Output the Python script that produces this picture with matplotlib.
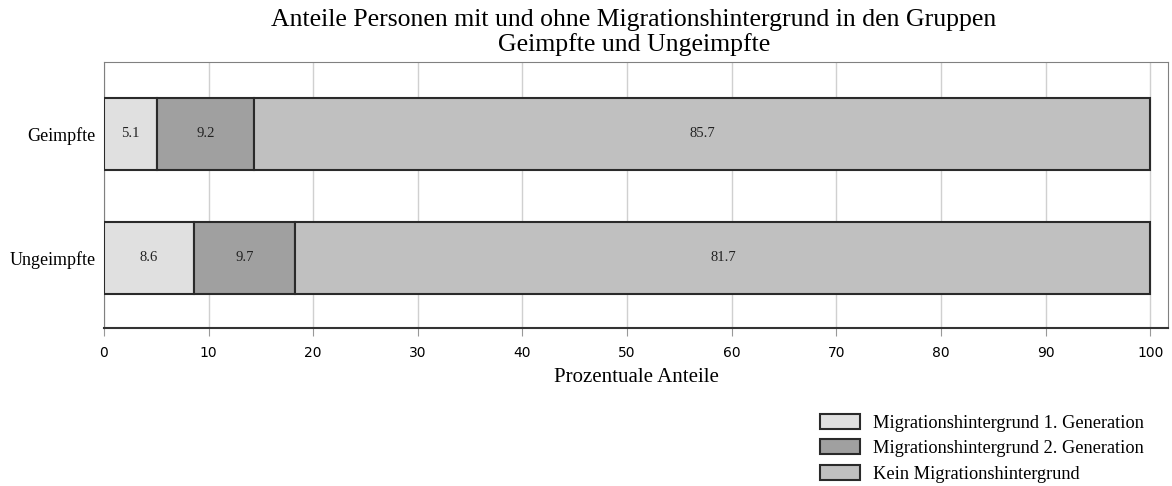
import numpy as np
import matplotlib.pyplot as plt

plt.rcParams['font.family'] = ['Liberation Serif', 'DejaVu Serif']

# Data
groups = ['Ungeimpfte', 'Geimpfte']
gen1 = [8.6, 5.1]
gen2 = [9.7, 9.2]
kein = [81.7, 85.7]
series_names = ['Migrationshintergrund 1. Generation',
                'Migrationshintergrund 2. Generation',
                'Kein Migrationshintergrund']
colors = ['#e0e0e0', '#a0a0a0', '#c0c0c0']

fig = plt.figure(figsize=(11.72, 4.86), dpi=100)
ax = fig.add_axes([104 / 1172, 1 - 328 / 486, (1168 - 104) / 1172, (328 - 62) / 486])

y = np.arange(len(groups))
left = np.zeros(len(groups))
handles = []
for vals, name, c in zip([gen1, gen2, kein], series_names, colors):
    bars = ax.barh(y, vals, left=left, height=0.58, color=c,
                   edgecolor='#2a2a2a', linewidth=1.5, label=name, zorder=3)
    for yi, v, l in zip(y, vals, left):
        ax.text(l + v / 2, yi, f'{v:.1f}', ha='center', va='center',
                fontsize=10.5, color='#222222', zorder=4)
    left += np.array(vals)
    handles.append(bars)

ax.set_xlim(0, 101.7)
ax.set_ylim(-0.565, 1.58)
ax.set_yticks(y)
ax.set_yticklabels(groups, fontsize=13)
ax.set_xticks(np.arange(0, 101, 10))
ax.set_xticklabels([str(v) for v in range(0, 101, 10)], family='DejaVu Sans', fontsize=10)
ax.tick_params(axis='x', length=6, color='#999999', pad=7)
ax.tick_params(axis='y', length=0, pad=6)
ax.grid(axis='x', color='#d0d0d0', linewidth=1, zorder=0)
for s in ['top', 'right', 'left']:
    ax.spines[s].set_color('#808080')
ax.spines['bottom'].set_color('#333333')
ax.spines['bottom'].set_linewidth(1.5)
ax.set_xlabel('Prozentuale Anteile', fontsize=15, labelpad=6)

fig.suptitle('Anteile Personen mit und ohne Migrationshintergrund in den Gruppen\nGeimpfte und Ungeimpfte',
             fontsize=18.5, x=634 / 1172, y=0.982, linespacing=1.15)

fig.legend(handles=handles, labels=series_names, loc='upper left',
           bbox_to_anchor=(820 / 1172, 1 - 414 / 486), frameon=False, fontsize=13.2,
           borderpad=0, borderaxespad=0,
           handlelength=2.2, handleheight=0.87, labelspacing=0.42, handletextpad=0.7)

fig.savefig('out.png', dpi=100)
